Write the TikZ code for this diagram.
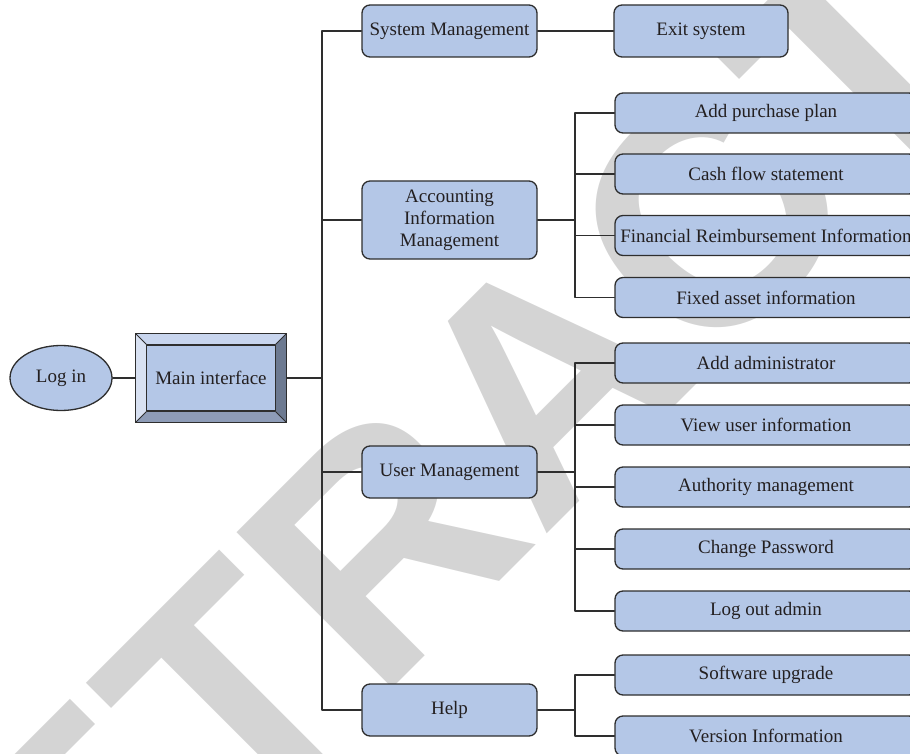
\documentclass[tikz,border=0pt]{standalone}
\usepackage{fontspec}
\setmainfont{Liberation Serif}
\newfontfamily\wmfont{Liberation Sans}
\usetikzlibrary{calc,shapes.geometric}
\definecolor{boxblue}{HTML}{B4C7E7}
\definecolor{edgegray}{HTML}{2E2E2E}
\definecolor{txtgray}{HTML}{231F20}
\definecolor{wmgray}{HTML}{D4D4D4}
\definecolor{bvtop}{HTML}{C8D5EE}
\definecolor{bvleft}{HTML}{D8E1F2}
\definecolor{bvright}{HTML}{6D7A91}
\definecolor{bvbottom}{HTML}{8E9CB7}
\tikzset{
  fbox/.style={draw=edgegray,fill=boxblue,rounded corners=8pt,line width=1.3pt,
               minimum width=175pt,minimum height=52pt,inner sep=2pt,align=center,
               text=txtgray,font=\fontsize{19}{22}\selectfont},
  subbox/.style={fbox,minimum width=302pt,minimum height=40pt},
  conn/.style={draw=edgegray,line width=1.2pt},
  every picture/.style={line cap=round,line join=round}}

\begin{document}
\begin{tikzpicture}[x=1pt,y=-1pt]
  \useasboundingbox (0,0) rectangle (910,754);
  \clip (0,0) rectangle (910,754);
  \node[font=\wmfont\bfseries\fontsize{320}{320}\selectfont,text=wmgray,
        rotate=45,inner sep=0pt] (wm) at (545,380) {RETRACTED};
  % login and main window
  \node[ellipse,draw=edgegray,fill=boxblue,line width=1.3pt,minimum width=102pt,
        minimum height=65pt,inner sep=0pt,text=txtgray,
        font=\fontsize{19}{22}\selectfont] (login) at (61,378) {Log in};
  \node[draw=edgegray,line width=1.2pt,minimum width=150pt,minimum height=88pt]
        (mainbox) at (211,378) {};
  \fill[bvtop] (mainbox.north west) -- (mainbox.north east)
        -- ($(mainbox.north east)+(-11,11)$) -- ($(mainbox.north west)+(11,11)$) -- cycle;
  \fill[bvleft] (mainbox.north west) -- ($(mainbox.north west)+(11,11)$)
        -- ($(mainbox.south west)+(11,-11)$) -- (mainbox.south west) -- cycle;
  \fill[bvright] (mainbox.north east) -- (mainbox.south east)
        -- ($(mainbox.south east)+(-11,-11)$) -- ($(mainbox.north east)+(-11,11)$) -- cycle;
  \fill[bvbottom] (mainbox.south west) -- ($(mainbox.south west)+(11,-11)$)
        -- ($(mainbox.south east)+(-11,-11)$) -- (mainbox.south east) -- cycle;
  \draw[edgegray,line width=1.2pt] (mainbox.north west) rectangle (mainbox.south east);
  \draw[edgegray,line width=0.8pt]
        (mainbox.north west) -- ++(11,11) (mainbox.north east) -- ++(-11,11)
        (mainbox.south west) -- ++(11,-11) (mainbox.south east) -- ++(-11,-11);
  \node[fbox,rounded corners=0pt,minimum width=129pt,minimum height=66pt]
        (main) at (211,378) {Main interface};
  % first level
  \node[fbox] (sys) at (449.5,31) {System Management};
  \node[fbox,minimum height=78pt] (acc) at (449.5,220)
        {Accounting\\Information\\Management};
  \node[fbox] (user) at (449.5,472) {User Management};
  \node[fbox] (help) at (449.5,710) {Help};
  % second level
  \node[fbox,minimum width=174pt] (exit) at (701,31) {Exit system};
  \node[subbox] (plan) at (766,113) {Add purchase plan};
  \node[subbox] (cash) at (766,174) {Cash flow statement};
  \node[subbox] (reimb) at (766,235.5) {Financial Reimbursement Information};
  \node[subbox] (asset) at (766,297.5) {Fixed asset information};
  \node[subbox] (addadm) at (766,363) {Add administrator};
  \node[subbox] (viewusr) at (766,425) {View user information};
  \node[subbox] (auth) at (766,487) {Authority management};
  \node[subbox] (passwd) at (766,549) {Change Password};
  \node[subbox] (logout) at (766,611) {Log out admin};
  \node[subbox] (upgr) at (766,675) {Software upgrade};
  \node[subbox] (vers) at (766,736) {Version Information};
  % connectors
  \coordinate (trunk) at (322,378);
  \coordinate (accj) at (575,220);
  \coordinate (userj) at (575,472);
  \coordinate (helpj) at (575,710);
  \draw[conn] (login) -- (mainbox) (mainbox) -- (trunk) (sys) -- (exit);
  \foreach \n in {sys,acc,user,help} \draw[conn] (trunk) |- (\n.west);
  \draw[conn] (acc) -- (accj) (user) -- (userj) (help) -- (helpj);
  \foreach \n in {plan,cash,reimb,asset} \draw[conn] (accj) |- (\n.west);
  \foreach \n in {addadm,viewusr,auth,passwd,logout} \draw[conn] (userj) |- (\n.west);
  \foreach \n in {upgr,vers} \draw[conn] (helpj) |- (\n.west);
\end{tikzpicture}
\end{document}
